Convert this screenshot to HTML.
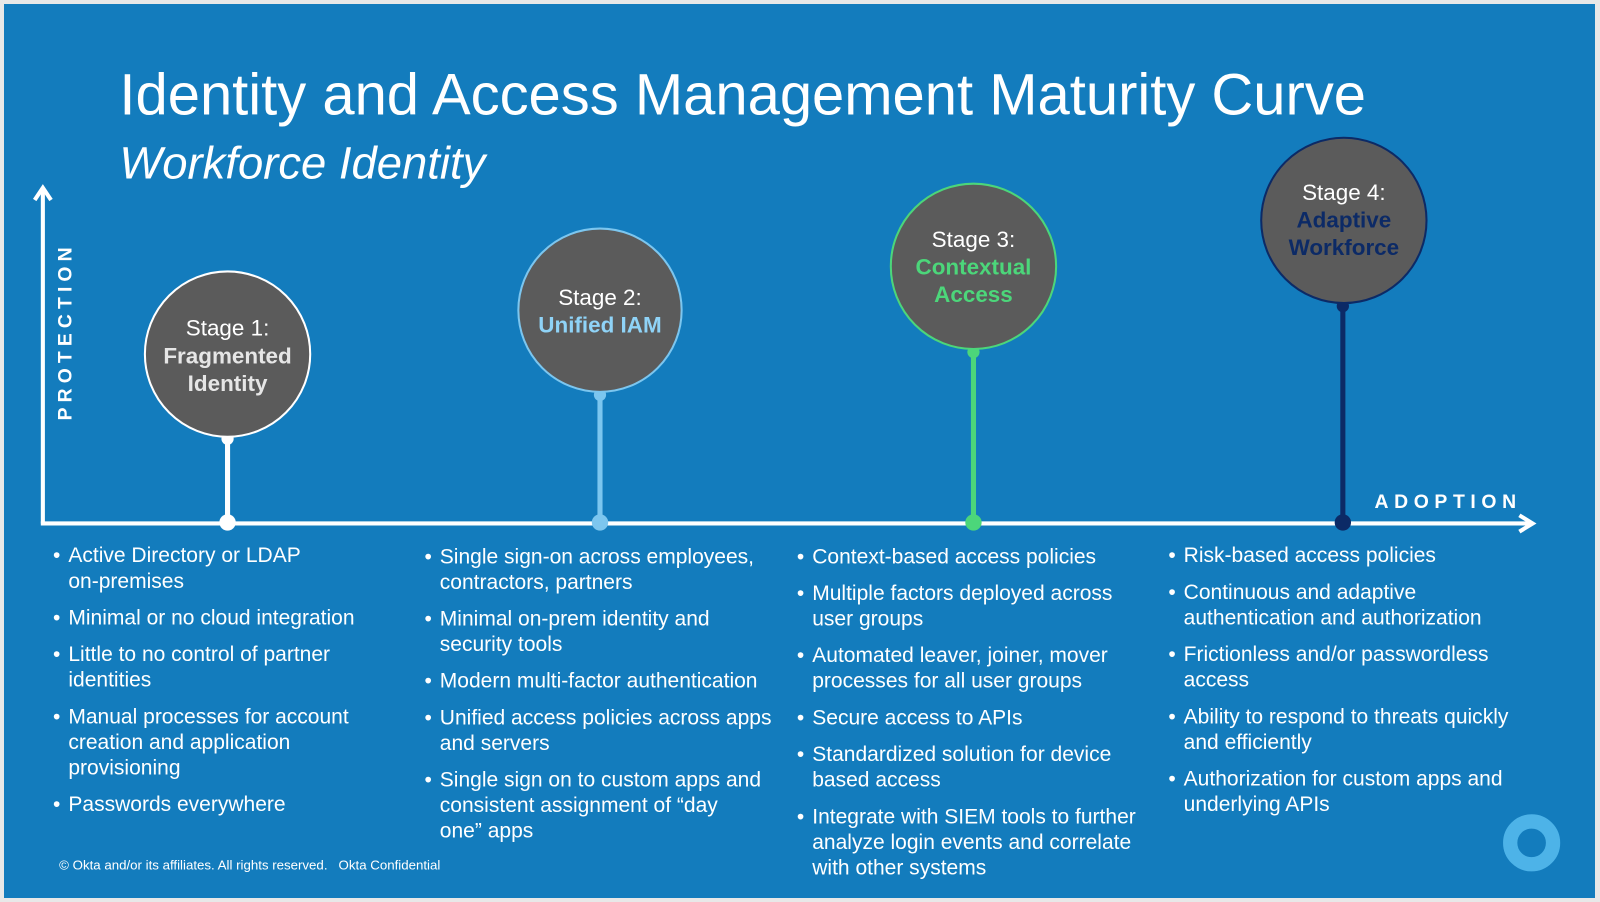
<!DOCTYPE html>
<html><head><meta charset="utf-8"><style>
body{margin:0;width:1600px;height:902px;background:#e8e8e8;position:relative;overflow:hidden;font-family:"Liberation Sans",sans-serif}
#s{position:absolute;left:4px;top:4px;width:1591px;height:894px;background:#137cbd}
#w{position:absolute;left:0;top:0;width:1568px;height:884px;transform:scale(1.0204);transform-origin:0 0}
.t{position:absolute;color:#fff;white-space:nowrap}
ul{position:absolute;margin:0;padding:0;list-style:none;color:#fff;font-size:20.6px;line-height:25px}
li{position:relative;padding-left:15px;margin-bottom:11px}
li:before{content:"•";position:absolute;left:0}
</style></head><body>
<div id="s"></div>
<div id="w">
<div class="t" style="left:117px;top:61px;font-size:56.8px;">Identity and Access Management Maturity Curve</div>
<div class="t" style="left:117px;top:136px;font-size:44.5px;font-style:italic;">Workforce Identity</div>
<div class="t" style="left:54px;top:412px;font-size:19px;font-weight:bold;letter-spacing:5px;transform:rotate(-90deg);transform-origin:0 0;">PROTECTION</div>
<div class="t" style="left:1347px;top:482px;font-size:19px;font-weight:bold;letter-spacing:5.5px;">ADOPTION</div>
<svg width="1568" height="884" style="position:absolute;left:0;top:0">
<g stroke="#fff" stroke-width="4" fill="none">
<line x1="42" y1="185" x2="42" y2="513"/><line x1="40" y1="513" x2="1500" y2="513"/>
<polyline points="34,196 42,184 50,196"/><polyline points="1489,505 1502,513 1489,521"/>
</g>
<line x1="223" y1="428" x2="223" y2="512" stroke="#fff" stroke-width="5"/>
<line x1="588" y1="385" x2="588" y2="512" stroke="#7cc6ef" stroke-width="5"/>
<line x1="954" y1="343" x2="954" y2="512" stroke="#4cd67a" stroke-width="5"/>
<line x1="1316" y1="298" x2="1316" y2="512" stroke="#0c2a66" stroke-width="5"/>
<circle cx="223" cy="512" r="8" fill="#fff"/><circle cx="223" cy="430" r="6" fill="#fff"/>
<circle cx="588" cy="512" r="8" fill="#7cc6ef"/><circle cx="588" cy="387" r="6" fill="#7cc6ef"/>
<circle cx="954" cy="512" r="8" fill="#4cd67a"/><circle cx="954" cy="345" r="6" fill="#4cd67a"/>
<circle cx="1316" cy="512" r="8" fill="#0c2a66"/><circle cx="1316" cy="300" r="6" fill="#0c2a66"/>
<circle cx="223" cy="347" r="81" fill="#5b5b5b" stroke="#fff" stroke-width="2"/>
<circle cx="588" cy="304" r="80" fill="#5b5b5b" stroke="#7cc6ef" stroke-width="2"/>
<circle cx="954" cy="261" r="81" fill="#5b5b5b" stroke="#4cd67a" stroke-width="2"/>
<circle cx="1317" cy="216" r="81" fill="#5b5b5b" stroke="#0c2a66" stroke-width="2"/>
<circle cx="1501" cy="826" r="21" fill="none" stroke="#4db3e8" stroke-width="14"/>
<g font-family="Liberation Sans,sans-serif" font-size="22" text-anchor="middle" fill="#fff">
<text x="223" y="329">Stage 1:</text><text x="223" y="356" font-weight="bold" fill="#e6e6e6">Fragmented</text><text x="223" y="383" font-weight="bold" fill="#e6e6e6">Identity</text>
<text x="588" y="299">Stage 2:</text><text x="588" y="326" font-weight="bold" fill="#8fd3f7">Unified IAM</text>
<text x="954" y="242">Stage 3:</text><text x="954" y="269" font-weight="bold" fill="#4cd67a">Contextual</text><text x="954" y="296" font-weight="bold" fill="#4cd67a">Access</text>
<text x="1317" y="196">Stage 4:</text><text x="1317" y="223" font-weight="bold" fill="#0c2a66">Adaptive</text><text x="1317" y="250" font-weight="bold" fill="#0c2a66">Workforce</text>
</g>
</svg>
<ul style="left:52px;top:532px;width:340px">
<li>Active Directory or LDAP<br>on-premises</li><li>Minimal or no cloud integration</li><li>Little to no control of partner<br>identities</li><li>Manual processes for account<br>creation and application<br>provisioning</li><li>Passwords everywhere</li></ul>
<ul style="left:416px;top:533px;width:360px">
<li>Single sign-on across employees,<br>contractors, partners</li><li>Minimal on-prem identity and<br>security tools</li><li>Modern multi-factor authentication</li><li>Unified access policies across apps<br>and servers</li><li>Single sign on to custom apps and<br>consistent assignment of “day<br>one” apps</li></ul>
<ul style="left:781px;top:533px;width:360px">
<li>Context-based access policies</li><li>Multiple factors deployed across<br>user groups</li><li>Automated leaver, joiner, mover<br>processes for all user groups</li><li>Secure access to APIs</li><li>Standardized solution for device<br>based access</li><li>Integrate with SIEM tools to further<br>analyze login events and correlate<br>with other systems</li></ul>
<ul style="left:1145px;top:532px;width:370px">
<li>Risk-based access policies</li><li>Continuous and adaptive<br>authentication and authorization</li><li>Frictionless and/or passwordless<br>access</li><li>Ability to respond to threats quickly<br>and efficiently</li><li>Authorization for custom apps and<br>underlying APIs</li></ul>
<div class="t" style="left:58px;top:840px;font-size:13px;">© Okta and/or its affiliates. All rights reserved.&nbsp;&nbsp;&nbsp;Okta Confidential</div>
</div>
</body></html>
